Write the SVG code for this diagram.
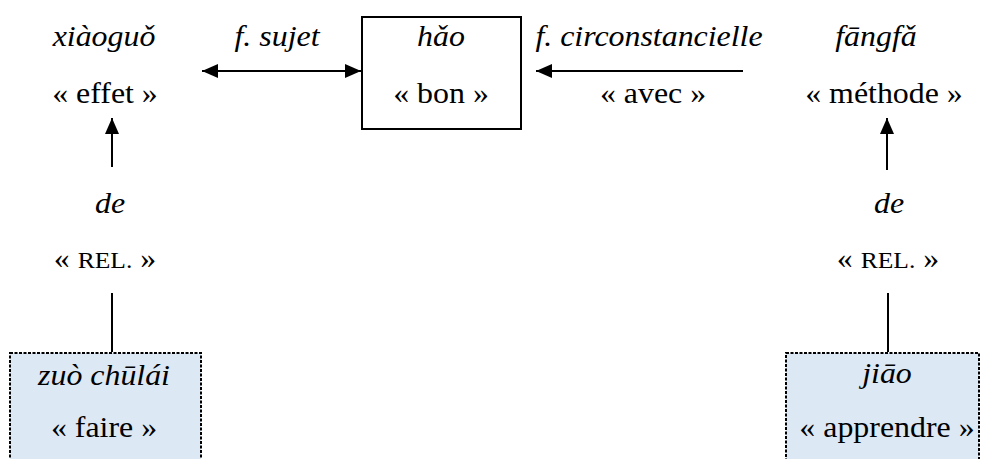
<svg xmlns="http://www.w3.org/2000/svg" width="982" height="459" viewBox="0 0 982 459">
<defs>
<style>
text{font-family:"Liberation Serif","Times New Roman",serif;font-size:29px;fill:#000;text-anchor:middle}
.i{font-style:italic}
.sc{font-size:23.2px}
.ln{stroke:#000;stroke-width:2;fill:none}
.box{fill:#fff;stroke:#000;stroke-width:2}
.dbox{fill:#dde8f5;stroke:#000;stroke-width:2;stroke-dasharray:3 1.5}
</style>
<marker id="ah" viewBox="0 0 16 16" refX="16" refY="8" markerWidth="16" markerHeight="16" markerUnits="userSpaceOnUse" orient="auto-start-reverse">
<path d="M0,1 L16,8 L0,15 Z" fill="#000"/>
</marker>
</defs>
<rect width="982" height="459" fill="#fff"/>
<g id="connectors">
<line class="ln" x1="202" y1="71" x2="361" y2="71" marker-start="url(#ah)" marker-end="url(#ah)"/>
<line class="ln" x1="743" y1="71" x2="536" y2="71" marker-end="url(#ah)"/>
<line class="ln" x1="112" y1="167" x2="112" y2="118" marker-end="url(#ah)"/>
<line class="ln" x1="887" y1="170" x2="887" y2="118" marker-end="url(#ah)"/>
<line class="ln" x1="112" y1="293" x2="112" y2="352"/>
<line class="ln" x1="888" y1="293" x2="888" y2="352"/>
</g>
<g id="label-sujet"><text class="i" transform="translate(277,46) scale(1.1,1)">f. sujet</text></g>
<g id="label-circ"><text class="i" transform="translate(649,46) scale(1.1,1)">f. circonstancielle</text><text transform="translate(653,103) scale(1.1,1)">« avec »</text></g>
<g id="node-hao">
<rect class="box" x="362" y="17" width="159" height="112"/>
<text class="i" transform="translate(441,46) scale(1.1,1)">hǎo</text>
<text transform="translate(441,103) scale(1.1,1)">« bon »</text>
</g>
<g id="node-xiaoguo">
<text class="i" transform="translate(104,46) scale(1.1,1)">xiàoguǒ</text>
<text transform="translate(105,103) scale(1.1,1)">« effet »</text>
</g>
<g id="node-fangfa">
<text class="i" transform="translate(876,46) scale(1.1,1)">fāngfǎ</text>
<text transform="translate(884,103) scale(1.1,1)">« méthode »</text>
</g>
<g id="node-de-left">
<text class="i" transform="translate(110,213) scale(1.1,1)">de</text>
<text transform="translate(105,268) scale(1.1,1)">« <tspan class="sc">REL.</tspan> »</text>
</g>
<g id="node-de-right">
<text class="i" transform="translate(889,213) scale(1.1,1)">de</text>
<text transform="translate(888,268) scale(1.1,1)">« <tspan class="sc">REL.</tspan> »</text>
</g>
<g id="node-zuo">
<rect class="dbox" x="10" y="353" width="191" height="120"/>
<text class="i" transform="translate(104,385) scale(1.1,1)">zuò chūlái</text>
<text transform="translate(104,437) scale(1.1,1)">« faire »</text>
</g>
<g id="node-jiao">
<rect class="dbox" x="786" y="353" width="193" height="120"/>
<text class="i" transform="translate(887,383) scale(1.1,1)">jiāo</text>
<text transform="translate(887,437) scale(1.1,1)">« apprendre »</text>
</g>
</svg>
